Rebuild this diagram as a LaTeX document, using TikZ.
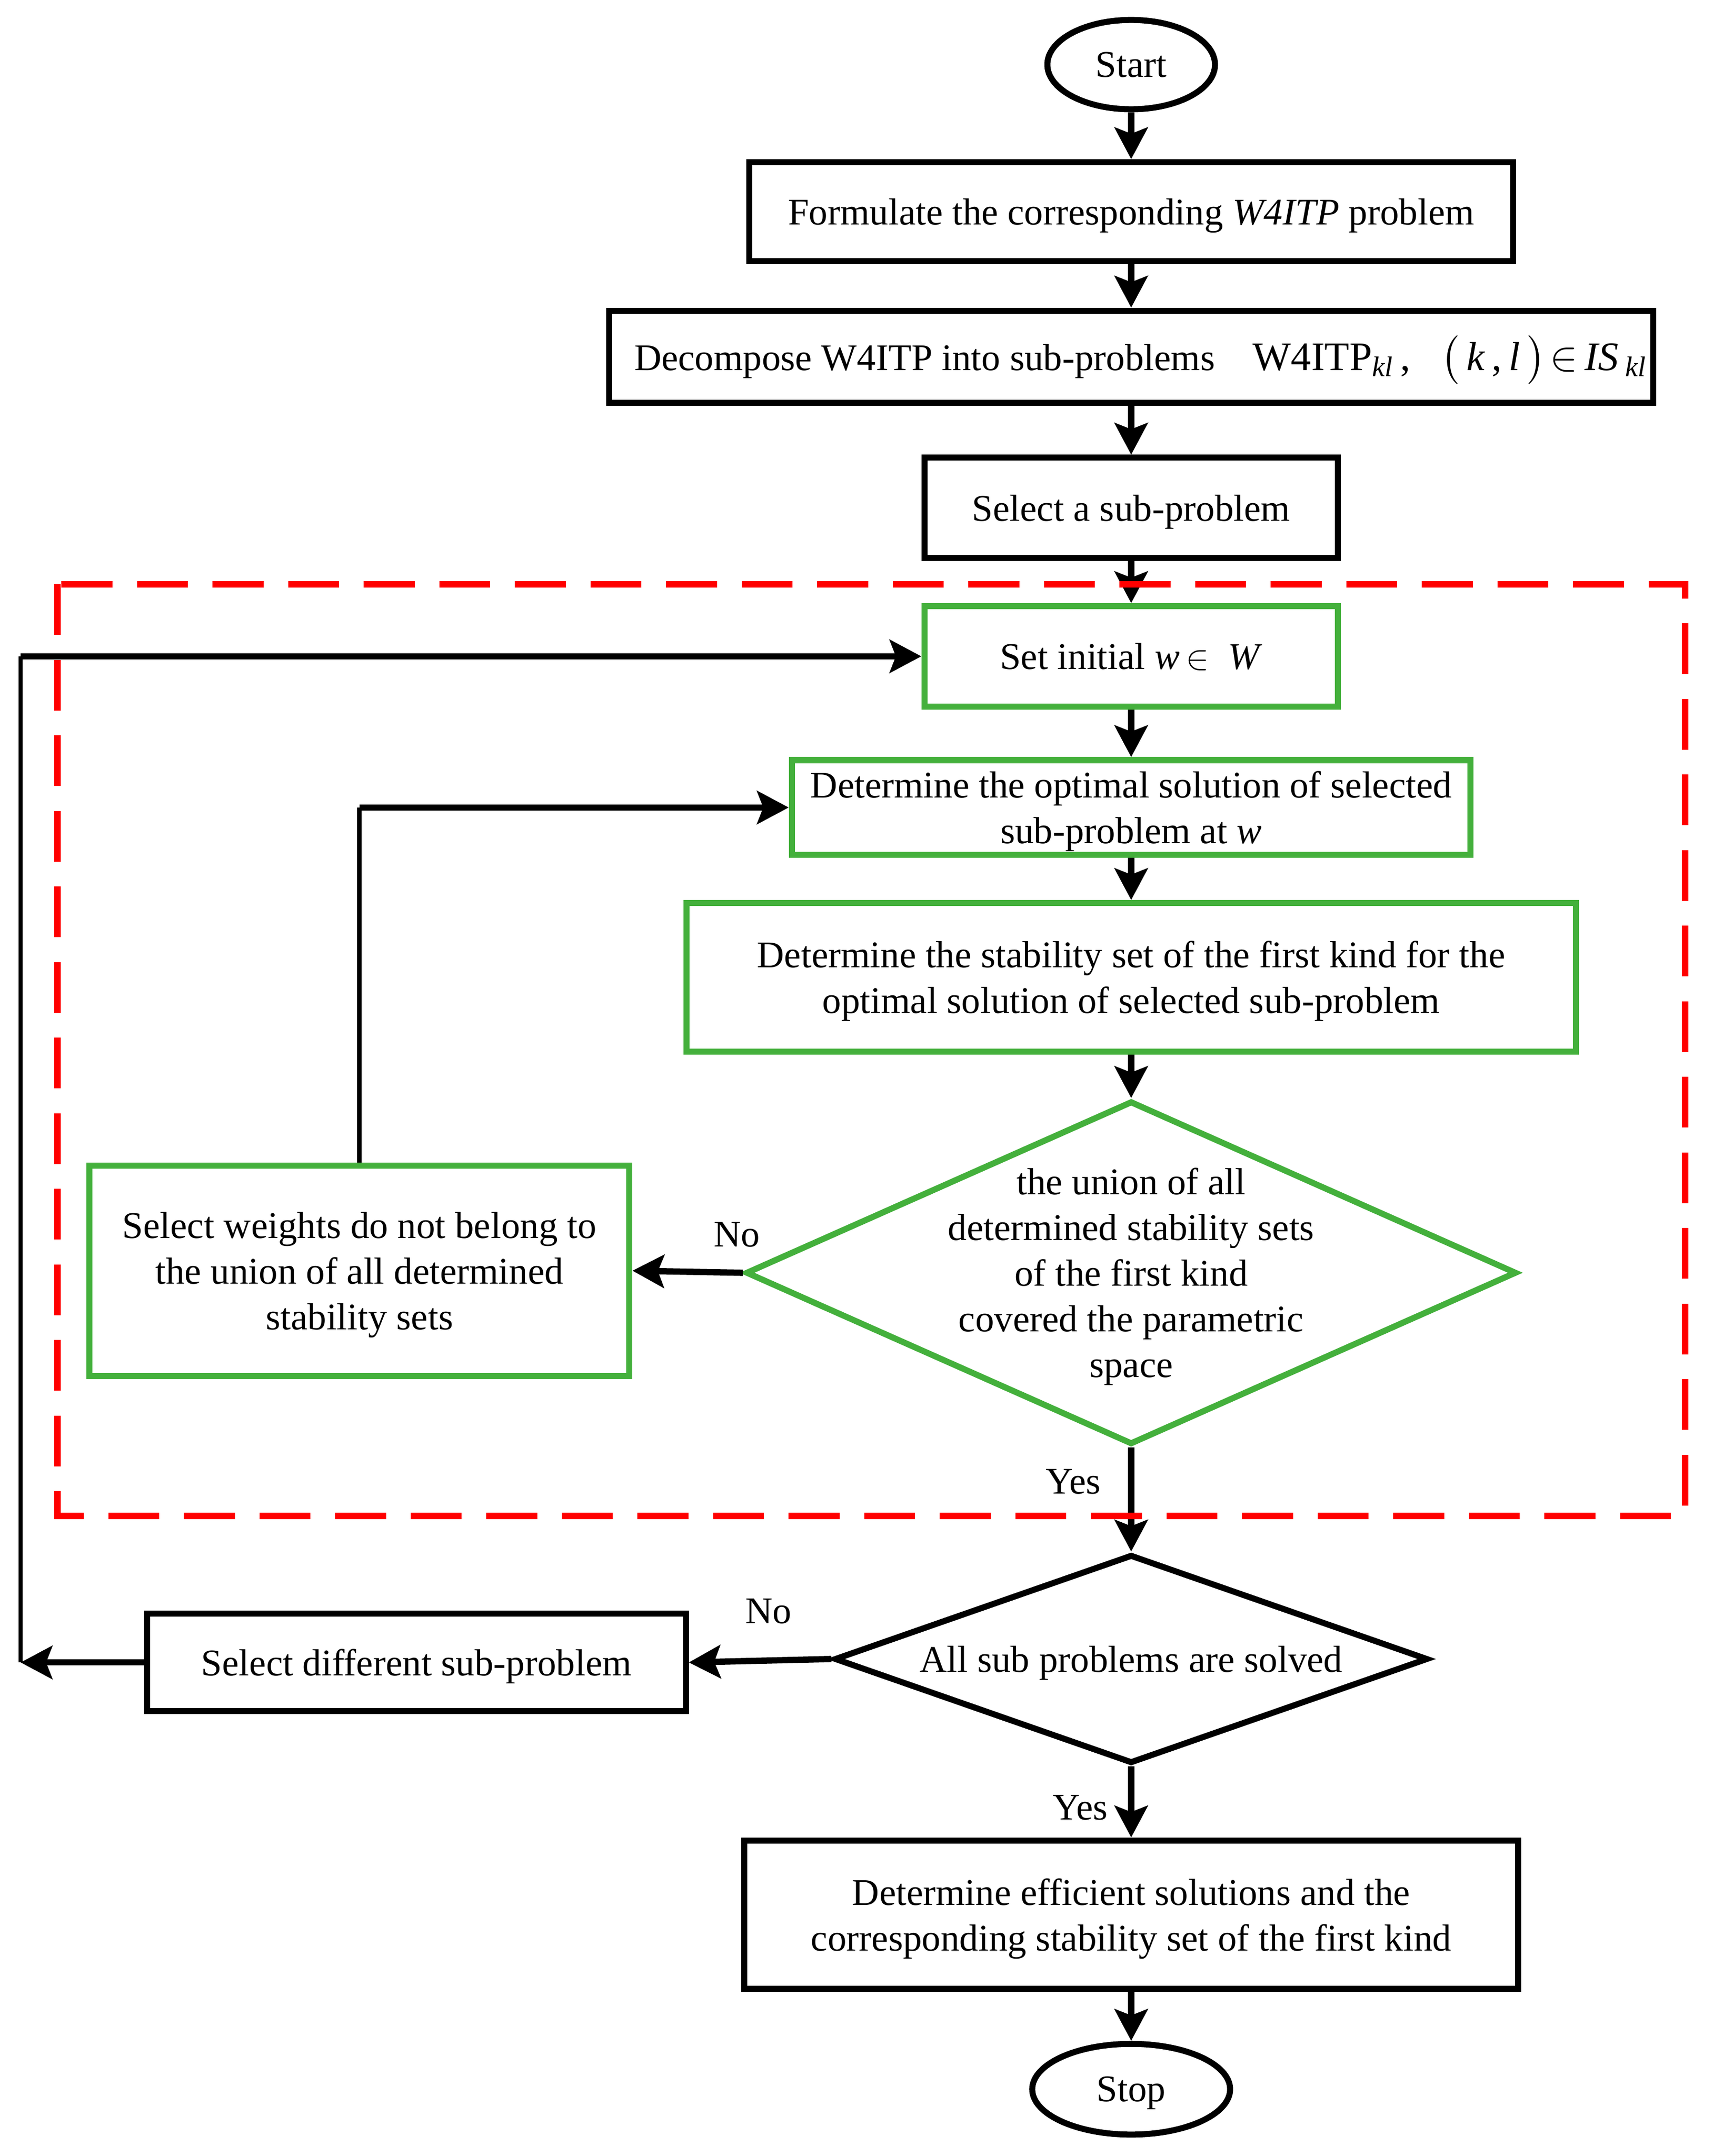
\documentclass[tikz,border=0pt]{standalone}
\usepackage{fontspec}
\setmainfont{Liberation Serif}
\usepackage{amsmath,amssymb}
\usetikzlibrary{shapes.geometric}
\usetikzlibrary{arrows.meta}
\definecolor{boxgreen}{RGB}{68,176,60}

\begin{document}
\begin{tikzpicture}[x=0.02cm,y=-0.02cm,
  font=\fontsize{15.6}{18.9}\selectfont,
  every node/.append style={text depth=0pt},
  blk/.style={draw,line width=2.5pt,rectangle,inner sep=2pt,align=center},
  grn/.style={blk,draw=boxgreen},
  term/.style={draw,line width=2.5pt,ellipse,inner sep=0pt},
  decis/.style={draw,line width=2.5pt,diamond,inner sep=0pt},
  arr/.style={line width=2.6pt,-{Stealth[length=0.46cm,width=0.48cm,inset=0.09cm]}},
  lin/.style={line width=1.8pt},
  lbl/.style={inner sep=0pt}]
\useasboundingbox (0,0) rectangle (1246,1568.6);
% main column
\node[term,minimum width=2.44cm,minimum height=1.3cm] (start) at (823,47) {Start};
\node[blk,minimum width=11.12cm,minimum height=1.44cm] (form) at (823,154)
  {Formulate the corresponding \textit{W4ITP} problem};
\node[blk,minimum width=15.2cm,minimum height=1.34cm,text depth=3.4pt] (decomp) at (823,259.5)
  {\hspace{0.5em}Decompose W4ITP into sub-problems\hspace{1em}{\fontsize{16.8}{18}\selectfont W4ITP\textsubscript{\textit{kl}}\,,\hspace{0.75em}$\big($\,\textit{k}\,,\,\textit{l}\,$\big)\!\in$\,\textit{IS}\,\textsubscript{\textit{kl}}}};
\node[blk,minimum width=6.02cm,minimum height=1.46cm] (selsub) at (823,369.5) {Select a sub-problem};
\node[grn,minimum width=6.02cm,minimum height=1.46cm] (setinit) at (823,477.5)
  {Set initial \textit{w}\,$\in$\ \ \textit{W}};
\node[grn,minimum width=9.88cm,minimum height=1.38cm] (optsol) at (823,587.5)
  {Determine the optimal solution of selected\\ sub-problem at \textit{w}};
\node[grn,minimum width=12.94cm,minimum height=2.16cm] (stabset) at (823,711)
  {Determine the stability set of the first kind for the\\ optimal solution of selected sub-problem};
\node[decis,draw=boxgreen,minimum width=11.22cm,minimum height=5cm] (cover) at (823,926) {};
\node[align=center] at (cover.center) {the union of all\\ determined stability sets\\ of the first kind\\ covered the parametric\\ space};
\node[grn,minimum width=7.86cm,minimum height=3.06cm] (weights) at (261.5,924.5)
  {Select weights do not belong to\\ the union of all determined\\ stability sets};
\node[decis,minimum width=8.64cm,minimum height=3.04cm] (allsol) at (823,1207) {};
\node at (allsol.center) {All sub problems are solved};
\node[blk,minimum width=7.84cm,minimum height=1.42cm] (seldiff) at (303,1209.5) {Select different sub-problem};
\node[blk,minimum width=11.26cm,minimum height=2.16cm] (final) at (823,1393)
  {Determine efficient solutions and the\\ corresponding stability set of the first kind};
\node[term,minimum width=2.88cm,minimum height=1.32cm] (stop) at (823,1520) {Stop};
% labels
\node[lbl] (no1) at (536,898) {No};
\node[lbl] (yes1) at (781,1078) {Yes};
\node[lbl] (no2) at (559,1172) {No};
\node[lbl] (yes2) at (786,1315) {Yes};
% connectors
\draw[arr] (start) -- (form);
\draw[arr] (form) -- (decomp);
\draw[arr] (decomp) -- (selsub);
\draw[arr] (selsub) -- (setinit);
\draw[arr] (setinit) -- (optsol);
\draw[arr] (optsol) -- (stabset);
\draw[arr] (stabset) -- (cover);
\draw[arr] (cover.west) -- (weights.east);
\draw[lin] (weights.north) -- (weights.north |- optsol.west);
\draw[arr] (weights.north |- optsol.west) -- (optsol.west);
\draw[arr] (cover.south) -- (allsol.north);
\draw[arr] (allsol.west) -- (seldiff.east);
\coordinate (back) at (15,1209.5);
\draw[arr] (seldiff.west) -- (back);
\draw[lin] (back) -- (back |- setinit.west);
\draw[arr] (back |- setinit.west) -- (setinit.west);
\draw[arr] (allsol.south) -- (final.north);
\draw[arr] (final) -- (stop);
% inner loop frame
\draw[red,line width=2.7pt,dash pattern=on 0.74cm off 0.36cm] (42,425) rectangle (1226,1103);
\end{tikzpicture}
\end{document}
